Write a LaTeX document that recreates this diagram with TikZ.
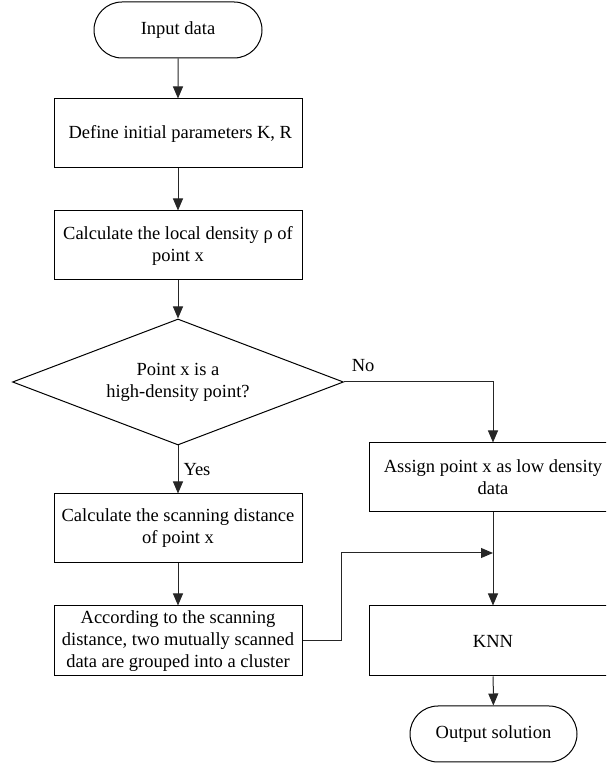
\documentclass[tikz,border=0pt]{standalone}
\usepackage{fontspec}
\setmainfont{Liberation Serif}
\usetikzlibrary{shapes.geometric, shapes.misc, arrows.meta}
\begin{document}
\begin{tikzpicture}[x=1pt, y=1pt, line width=1pt, font=\fontsize{18.5}{22}\selectfont]
	\tikzstyle{terminal} = [rounded rectangle, draw=black, minimum width=168pt, minimum height=56pt, inner sep=0pt]
	\tikzstyle{process}  = [rectangle, draw=black, minimum width=248pt, minimum height=69pt, inner sep=2pt, align=center]
	\tikzstyle{decision} = [diamond, draw=black, aspect=2.63, minimum width=331pt, minimum height=126pt, inner sep=0pt, align=center]
	\tikzstyle{flow}     = [draw=black!85, -{Triangle[length=12pt, width=10pt]}]

	\useasboundingbox (0,0) rectangle (606,765);
	\clip (0,0) rectangle (606,765);

	% left column
	\node[terminal] (in)   at (178, 735)   {Input data};
	\node[process]  (def)  at (178, 631.5) {\ Define initial parameters K, R};
	\node[process]  (dens) at (178, 519.5) {Calculate the local density ρ of\\point x};
	\node[decision] (dia)  at (178, 383)   {Point x is a\\high-density point?};
	\node[process]  (scan) at (178, 236.5) {Calculate the scanning distance\\of point x};
	\node[process, minimum height=70pt] (grp) at (178, 124) {According to the scanning\\distance, two mutually scanned\\data are grouped into a cluster};

	% right column
	\node[process]  (low)  at (493, 287.5) {Assign point x as low density\\data};
	\node[process, minimum height=70pt] (knn) at (493, 124) {KNN};
	\node[terminal, minimum width=167pt] (out) at (493.5, 31) {Output solution};

	\coordinate (jn) at (493, 212);

	\foreach \from/\to in {in/def, def/dens, dens/dia, scan/grp, low/knn, knn/out}
		\draw[flow] (\from) -- (\to);

	\draw[flow] (dia.south) -- node[right, inner sep=5pt] {Yes} (scan.north);
	\draw[flow] (dia.east) -| node[pos=0, anchor=south west, xshift=4pt, yshift=6pt] {No} (low.north);
	\draw[flow] (grp.east) -- ++(39,0) |- (jn);

\end{tikzpicture}
\end{document}
